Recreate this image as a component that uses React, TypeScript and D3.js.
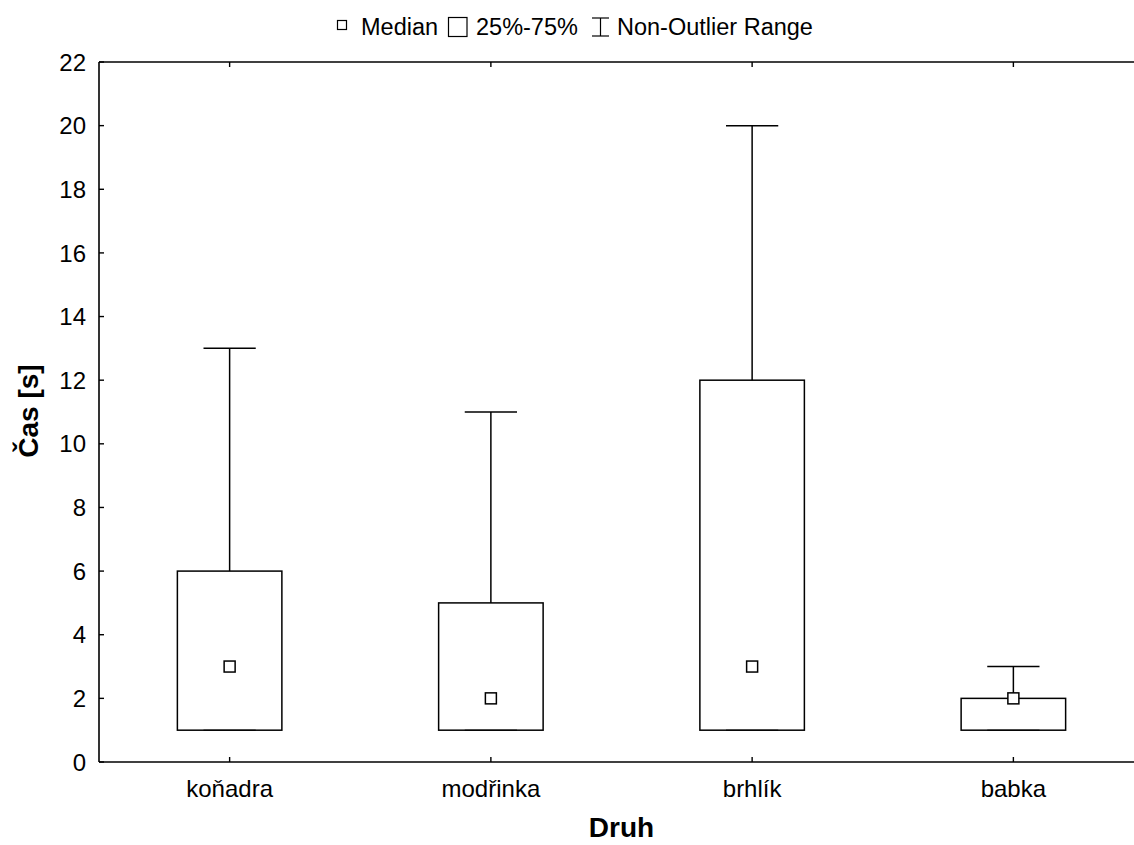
import React from 'react';
import * as d3 from 'd3';

// species and box statistics
const species = ['koňadra', 'modřinka', 'brhlík', 'babka'];
const minVals = [1, 1, 1, 1];
const q1Vals = [1, 1, 1, 1];
const medianVals = [3, 2, 3, 2];
const q3Vals = [6, 5, 12, 2];
const maxVals = [13, 11, 20, 3];
const yTicks = [0, 2, 4, 6, 8, 10, 12, 14, 16, 18, 20, 22];

const W = 1134;
const H = 845;
const left = 99;
const right = 1144; // plot frame runs past the image edge
const top = 62;
const bottom = 762;
const font = 'Arial, "Liberation Sans", sans-serif';

const App: React.FC = () => {
    const x = d3.scalePoint<string>().domain(species).range([left, right]).padding(0.5);
    const y = d3.scaleLinear().domain([0, 22]).range([bottom, top]);
    const step = x.step();
    const boxW = step * 0.4;
    const capW = boxW / 2;
    const med = 11;

    return (
        <svg width={W} height={H} style={{ display: 'block', position: 'absolute', left: 0, top: 0, background: '#fff' }}>
            <rect width={W} height={H} fill="#fff" />
            {/* legend */}
            <g fontFamily={font} fontSize={23.5} fill="#000">
                <rect x={337.5} y={20.5} width={9} height={9} fill="#fff" stroke="#000" strokeWidth={1.2} />
                <text x={361} y={35}>Median</text>
                <rect x={448.5} y={17.5} width={18.5} height={19} fill="#fff" stroke="#000" strokeWidth={1.2} />
                <text x={476} y={35}>25%-75%</text>
                <g stroke="#000" strokeWidth={1.2}>
                    <line x1={592} x2={609} y1={18} y2={18} />
                    <line x1={600.5} x2={600.5} y1={18} y2={36} />
                    <line x1={592} x2={609} y1={36} y2={36} />
                </g>
                <text x={617} y={35}>Non-Outlier Range</text>
            </g>

            {/* frame */}
            <g stroke="#000" strokeWidth={1.6} fill="none">
                <line x1={left} x2={right} y1={top} y2={top} />
                <line x1={left} x2={right} y1={bottom} y2={bottom} />
                <line x1={left} x2={left} y1={top} y2={bottom} />
                <line x1={right} x2={right} y1={top} y2={bottom} />
            </g>

            {/* y ticks */}
            <g fontFamily={font} fontSize={24} fill="#000">
                {yTicks.map(t => (
                    <g key={t}>
                        <line x1={left} x2={left + 5} y1={y(t)} y2={y(t)} stroke="#000" strokeWidth={1.4} />
                        <text x={86} y={y(t)} dy="0.36em" textAnchor="end">{t}</text>
                    </g>
                ))}
            </g>

            {/* x ticks */}
            <g fontFamily={font} fontSize={24} fill="#000">
                {species.map(s => (
                    <g key={s}>
                        <line x1={x(s)} x2={x(s)} y1={bottom} y2={bottom - 5} stroke="#000" strokeWidth={1.4} />
                        <line x1={x(s)} x2={x(s)} y1={top} y2={top + 5} stroke="#000" strokeWidth={1.4} />
                        <text x={x(s)} y={797} textAnchor="middle">{s}</text>
                    </g>
                ))}
            </g>

            {/* boxes */}
            <g stroke="#000" strokeWidth={1.5} fill="none">
                {species.map((s, i) => {
                    const cx = x(s) as number;
                    return (
                        <g key={s}>
                            <line x1={cx} x2={cx} y1={y(q3Vals[i])} y2={y(maxVals[i])} />
                            <line x1={cx - capW / 2} x2={cx + capW / 2} y1={y(maxVals[i])} y2={y(maxVals[i])} />
                            <line x1={cx} x2={cx} y1={y(minVals[i])} y2={y(q1Vals[i])} />
                            <line x1={cx - capW / 2} x2={cx + capW / 2} y1={y(minVals[i])} y2={y(minVals[i])} stroke="#555" />
                            <rect x={cx - boxW / 2} y={y(q3Vals[i])} width={boxW} height={y(q1Vals[i]) - y(q3Vals[i])} />
                            <rect x={cx - med / 2} y={y(medianVals[i]) - med / 2} width={med} height={med} fill="#fff" />
                        </g>
                    );
                })}
            </g>

            {/* axis titles */}
            <text x={(left + right) / 2} y={837} textAnchor="middle" fontFamily={font} fontSize={28} fontWeight="bold">Druh</text>
            <text transform={`translate(38,411) rotate(-90)`} textAnchor="middle" fontFamily={font} fontSize={28} fontWeight="bold">Čas [s]</text>
        </svg>
    );
};

export default App;
